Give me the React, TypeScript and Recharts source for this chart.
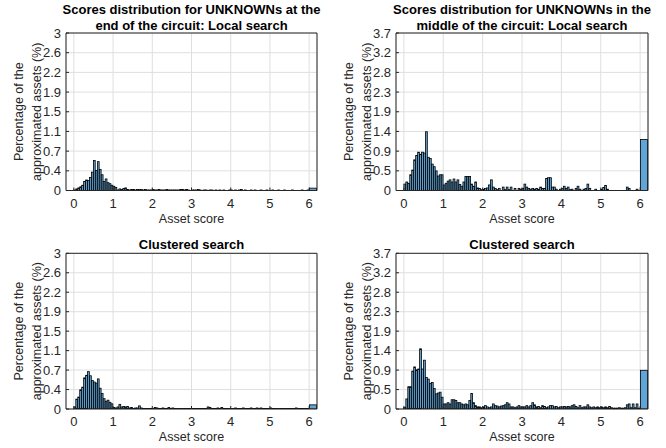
import { ComposedChart, Bar, XAxis, YAxis, CartesianGrid } from "recharts";

const FONT = '"Liberation Sans", Arial, Helvetica, sans-serif';
const TEXT = "#262626";
const FACE = "#5fa5d7";
const EDGE = "#000000";
const GRID = "#dfdfdf";

// histogram bins: 0.05 wide from 0 to 6, plus one overflow bin 6 .. 6.2
const BIN = 0.05;
const scoreDomain = [-0.2, 6.2];
const scoreTicks = [0, 1, 2, 3, 4, 5, 6];
const overflowBin = [6, 6.2];

const endTicks = [0, 0.375, 0.75, 1.125, 1.5, 1.875, 2.25, 2.625, 3];
const endTickLabels = ["0", "0.4", "0.7", "1.1", "1.5", "1.9", "2.2", "2.6", "3"];
const midTicks = [0, 0.4625, 0.925, 1.3875, 1.85, 2.3125, 2.775, 3.2375, 3.7];
const midTickLabels = ["0", "0.5", "0.9", "1.4", "1.9", "2.3", "2.8", "3.2", "3.7"];

// % of approximated assets per bin, one row per score unit
const endLocal = [
  0.01, 0.03, 0.05, 0.07, 0.1, 0.17, 0.2, 0.19, 0.25, 0.35, 0.57, 0.38, 0.55, 0.4, 0.3, 0.17, 0.22, 0.15, 0.13, 0.1,
  0.08, 0.06, 0.01, 0.03, 0.02, 0.04, 0.05, 0.02, 0.01, 0.02, 0.02, 0.01, 0.02, 0.02, 0.02, 0.01, 0.02, 0.01, 0.01, 0.01,
  0.02, 0.01, 0.01, 0.02, 0.01, 0.01, 0.01, 0.02, 0.01, 0.01, 0.01, 0.01, 0.01, 0.01, 0.02, 0.02, 0.01, 0.02, 0.01, 0,
  0.01, 0.01, 0.01, 0.02, 0.01, 0, 0.01, 0.01, 0, 0.01, 0.01, 0, 0.01, 0, 0.01, 0, 0.01, 0, 0, 0.01,
  0.01, 0, 0.01, 0, 0.01, 0.02, 0, 0.01, 0, 0, 0.01, 0, 0.01, 0, 0, 0.01, 0, 0, 0.01, 0,
  0, 0.01, 0, 0, 0.01, 0, 0, 0.01, 0, 0, 0, 0.01, 0, 0, 0, 0, 0.01, 0, 0, 0.01,
];
const endLocalOverflow = 0.045;

const midLocal = [
  0.15, 0.2, 0.17, 0.37, 0.48, 0.72, 0.82, 0.9, 0.85, 0.9, 0.88, 1.38, 0.78, 0.75, 0.62, 0.56, 0.46, 0.34, 0.37, 0.37,
  0.13, 0.17, 0.22, 0.25, 0.2, 0.27, 0.2, 0.25, 0.14, 0.1, 0.2, 0.33, 0.33, 0.33, 0.15, 0.1, 0.2, 0.06, 0.05, 0.02,
  0.03, 0.05, 0.06, 0.13, 0.25, 0.08, 0.05, 0.02, 0.05, 0, 0.08, 0.02, 0.08, 0.02, 0.08, 0, 0.05, 0, 0.05, 0.03,
  0.05, 0.15, 0.08, 0.05, 0.03, 0.05, 0.03, 0.05, 0.03, 0.08, 0.05, 0.05, 0.28, 0.3, 0.3, 0.08, 0.08, 0.03, 0, 0.03,
  0.05, 0.1, 0.05, 0.08, 0.02, 0.03, 0, 0.05, 0.1, 0.03, 0, 0.03, 0.05, 0.15, 0.05, 0, 0, 0.03, 0, 0,
  0.03, 0.07, 0.12, 0.03, 0, 0, 0, 0, 0, 0, 0, 0, 0, 0.08, 0.05, 0, 0, 0, 0.03, 0,
];
const midLocalOverflow = 1.2;

const endClustered = [
  0.04, 0.19, 0.23, 0.37, 0.42, 0.6, 0.65, 0.72, 0.64, 0.55, 0.52, 0.5, 0.58, 0.4, 0.3, 0.2, 0.15, 0.17, 0.13, 0.1,
  0.03, 0.02, 0.04, 0.09, 0.04, 0.05, 0.04, 0.05, 0.02, 0.03, 0.01, 0.02, 0.02, 0.06, 0.02, 0.01, 0.01, 0.01, 0.01, 0.01,
  0.01, 0.03, 0.02, 0.01, 0.01, 0.02, 0.01, 0.01, 0.03, 0.01, 0.02, 0.01, 0.01, 0.01, 0.01, 0.01, 0.01, 0.01, 0.01, 0.01,
  0.01, 0.01, 0.01, 0.01, 0.01, 0.01, 0.01, 0.01, 0.04, 0.03, 0.01, 0.01, 0.01, 0.02, 0.01, 0.03, 0.01, 0.01, 0.01, 0.01,
  0.01, 0.01, 0.02, 0.01, 0.01, 0.01, 0.02, 0.01, 0.01, 0.01, 0.02, 0.01, 0.01, 0.02, 0.01, 0.02, 0.01, 0.01, 0.01, 0.01,
  0.02, 0.01, 0.01, 0.01, 0.01, 0.01, 0.01, 0.01, 0.01, 0.01, 0.01, 0.01, 0.01, 0.02, 0.01, 0.01, 0.01, 0.01, 0.01, 0.01,
];
const endClusteredOverflow = 0.08;

const midClustered = [
  0.04, 0.24, 0.53, 0.53, 0.9, 1.0, 0.93, 0.95, 1.43, 0.95, 1.16, 0.75, 0.71, 0.61, 0.63, 0.49, 0.36, 0.38, 0.4, 0.28,
  0.12, 0.12, 0.15, 0.12, 0.22, 0.22, 0.2, 0.15, 0.15, 0.12, 0.1, 0.12, 0.1, 0.2, 0.37, 0.15, 0.08, 0.05, 0.05, 0.03,
  0.05, 0.08, 0.05, 0.03, 0.05, 0.12, 0.08, 0.07, 0.05, 0.07, 0.08, 0.1, 0.15, 0.12, 0.05, 0.05, 0.03, 0.05, 0.08, 0.05,
  0.05, 0.05, 0.08, 0.05, 0.08, 0.15, 0.1, 0.05, 0.06, 0.03, 0.08, 0.06, 0.03, 0.05, 0.08, 0.08, 0.05, 0.06, 0.03, 0.05,
  0.05, 0.06, 0.05, 0.06, 0.05, 0.08, 0.1, 0.06, 0.03, 0.08, 0.03, 0.05, 0.05, 0.1, 0.05, 0.03, 0.05, 0.03, 0.05, 0.03,
  0.05, 0.03, 0.05, 0.03, 0.06, 0.03, 0.02, 0.02, 0.02, 0.03, 0.02, 0.02, 0.03, 0.1, 0.12, 0.03, 0.12, 0.03, 0.12, 0.02,
];
const midClusteredOverflow = 0.92;

const toBins = (pct: number[], overflow: number) => [
  ...pct.map((v, i) => ({ lo: i * BIN, hi: (i + 1) * BIN, center: (i + 0.5) * BIN, pct: v })),
  {
    lo: overflowBin[0],
    hi: overflowBin[1],
    center: (overflowBin[0] + overflowBin[1]) / 2,
    pct: overflow,
  },
];

// bar width from recharts is one bin; stretch it to the real bin edges
const BinShape = (props: any) => {
  const { x, y, width, height } = props;
  const bin = props.payload ?? props;
  if (!(height > 0)) return <g />;
  const pxPerUnit = width / BIN;
  const mid = x + width / 2;
  const left = mid - (bin.center - bin.lo) * pxPerUnit;
  return (
    <rect
      x={left}
      y={y}
      width={(bin.hi - bin.lo) * pxPerUnit}
      height={height}
      fill={FACE}
      stroke={EDGE}
      strokeWidth={0.8}
    />
  );
};

const yLabel = (props: any) => {
  const { x, y, width, height } = props.viewBox;
  const px = x + width;
  const cy = y + height / 2;
  return (
    <g fill={TEXT} fontSize={12.5} textAnchor="middle">
      <text transform={`translate(${px - 47} ${cy}) rotate(-90)`} dy="0.35em">
        Percentage of the
      </text>
      <text transform={`translate(${px - 29} ${cy}) rotate(-90)`} dy="0.35em">
        approximated assets (%)
      </text>
    </g>
  );
};

const xLabel = (props: any) => {
  const { x, y, width } = props.viewBox;
  return (
    <text x={x + width / 2} y={y + 32} fill={TEXT} fontSize={12.5} textAnchor="middle">
      Asset score
    </text>
  );
};

interface PanelProps {
  left: number;
  top: number;
  height: number;
  plotLeft: number;
  plotWidth: number;
  plotTop: number;
  plotHeight: number;
  title: string[];
  titleY: number[];
  data: { lo: number; hi: number; center: number; pct: number }[];
  ticks: number[];
  tickLabels: string[];
}

function Panel({ left, top, height, plotLeft, plotWidth, plotTop, plotHeight, title, titleY, data, ticks, tickLabels }: PanelProps) {
  const width = 333;
  const yMax = ticks[ticks.length - 1];
  const axisStyle = {
    tickSize: -3,
    axisLine: { stroke: TEXT },
    tickLine: { stroke: TEXT },
  };
  return (
    <div style={{ position: "absolute", left, top, width, height }}>
      {title.map((line, i) => (
        <div
          key={line}
          style={{
            position: "absolute",
            left: plotLeft - 60,
            width: plotWidth + 120,
            top: titleY[i] - 8,
            lineHeight: "16px",
            textAlign: "center",
            fontWeight: "bold",
            fontSize: 13,
            color: "#000",
            whiteSpace: "nowrap",
          }}
        >
          {line}
        </div>
      ))}
      <ComposedChart
        width={width}
        height={height}
        data={data}
        margin={{ top: plotTop - 1, right: width - plotLeft - plotWidth - 1, bottom: 0, left: 0 }}
        barCategoryGap={0}
        barGap={0}
      >
        <CartesianGrid stroke={GRID} xAxisId="x" yAxisId="y" />
        <XAxis
          xAxisId="x"
          dataKey="center"
          type="number"
          domain={scoreDomain}
          ticks={scoreTicks}
          allowDataOverflow
          interval={0}
          height={height - plotTop - plotHeight}
          tickMargin={11}
          tick={{ fill: TEXT, fontSize: 13 }}
          label={xLabel}
          {...axisStyle}
        />
        <XAxis
          xAxisId="top"
          orientation="top"
          dataKey="center"
          type="number"
          domain={scoreDomain}
          ticks={scoreTicks}
          allowDataOverflow
          interval={0}
          height={1}
          tick={false}
          {...axisStyle}
        />
        <YAxis
          yAxisId="y"
          type="number"
          domain={[0, yMax]}
          ticks={ticks}
          allowDataOverflow
          interval={0}
          width={plotLeft}
          tickMargin={8}
          tick={{ fill: TEXT, fontSize: 13 }}
          tickFormatter={(v: number) => tickLabels[ticks.indexOf(v)] ?? String(v)}
          label={yLabel}
          {...axisStyle}
        />
        <YAxis
          yAxisId="right"
          orientation="right"
          type="number"
          domain={[0, yMax]}
          ticks={ticks}
          allowDataOverflow
          interval={0}
          width={1}
          tick={false}
          {...axisStyle}
        />
        <Bar
          xAxisId="x"
          yAxisId="y"
          dataKey="pct"
          barSize="99.9%"
          shape={BinShape}
          isAnimationActive={false}
        />
      </ComposedChart>
    </div>
  );
}

export default function App() {
  return (
    <div
      style={{
        position: "absolute",
        left: 0,
        top: 0,
        width: 666,
        height: 448,
        background: "#fff",
        fontFamily: FONT,
      }}
    >
      <Panel
        left={0}
        top={0}
        height={232}
        plotLeft={66}
        plotWidth={251}
        plotTop={33}
        plotHeight={157.5}
        title={["Scores distribution for UNKNOWNs at the", "end of the circuit: Local search"]}
        titleY={[10, 26]}
        data={toBins(endLocal, endLocalOverflow)}
        ticks={endTicks}
        tickLabels={endTickLabels}
      />
      <Panel
        left={333}
        top={0}
        height={232}
        plotLeft={63}
        plotWidth={252}
        plotTop={33}
        plotHeight={157.5}
        title={["Scores distribution for UNKNOWNs in the", "middle of the circuit: Local search"]}
        titleY={[10, 26]}
        data={toBins(midLocal, midLocalOverflow)}
        ticks={midTicks}
        tickLabels={midTickLabels}
      />
      <Panel
        left={0}
        top={224}
        height={224}
        plotLeft={66}
        plotWidth={251}
        plotTop={29.3}
        plotHeight={155.7}
        title={["Clustered search"]}
        titleY={[21]}
        data={toBins(endClustered, endClusteredOverflow)}
        ticks={endTicks}
        tickLabels={endTickLabels}
      />
      <Panel
        left={333}
        top={224}
        height={224}
        plotLeft={63}
        plotWidth={252}
        plotTop={29.3}
        plotHeight={155.7}
        title={["Clustered search"]}
        titleY={[21]}
        data={toBins(midClustered, midClusteredOverflow)}
        ticks={midTicks}
        tickLabels={midTickLabels}
      />
    </div>
  );
}
